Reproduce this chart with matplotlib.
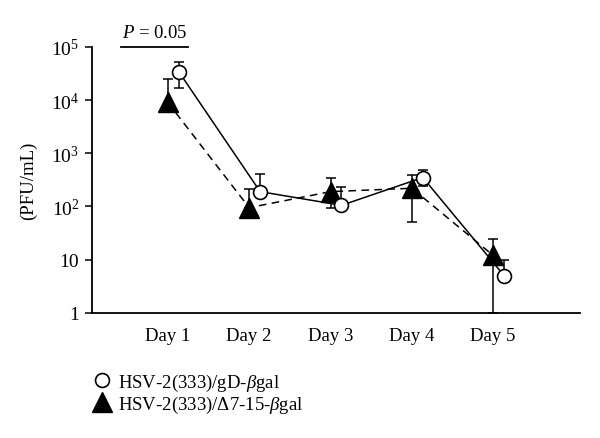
import numpy as np
import matplotlib
matplotlib.use("Agg")
import matplotlib.pyplot as plt
from matplotlib.lines import Line2D

plt.rcParams['font.family'] = ['Liberation Serif', 'DejaVu Serif']
plt.rcParams['mathtext.fontset'] = 'custom'
plt.rcParams['mathtext.rm'] = 'Liberation Serif'
plt.rcParams['mathtext.it'] = 'Liberation Serif:italic'

# Datos
dias = ["Day 1", "Day 2", "Day 3", "Day 4", "Day 5"]
gd_media = [34000, 190, 105, 350, 5]
gd_err_sup = [52000, 410, 230, 480, 10]
gd_err_inf = [17000, 190, 105, 240, 5]
d7_media = [9000, 95, 190, 220, 12]
d7_err_sup = [25000, 210, 350, 390, 24]
d7_err_inf = [9000, 95, 95, 50, 1]

etiqueta_gd = "HSV-2(333)/gD-$\\mathit{\\beta}$gal"
etiqueta_d7 = "HSV-2(333)/Δ7-15-$\\mathit{\\beta}$gal"

x = np.arange(1, len(dias) + 1)
x_gd = x + 0.135

fig = plt.figure(figsize=(6.0, 4.39), dpi=100)
ax = fig.add_axes([0.153, 0.285, 0.814, 0.606])

gd_media = np.array(gd_media, dtype=float)
d7_media = np.array(d7_media, dtype=float)
yerr_gd = [gd_media - np.array(gd_err_inf), np.array(gd_err_sup) - gd_media]
yerr_d7 = [d7_media - np.array(d7_err_inf), np.array(d7_err_sup) - d7_media]

# Barras de error
ax.errorbar(x, d7_media, yerr=yerr_d7, fmt='none', ecolor='black',
            elinewidth=1.1, capsize=3.5, capthick=1.1, zorder=2)
ax.errorbar(x_gd, gd_media, yerr=yerr_gd, fmt='none', ecolor='black',
            elinewidth=1.1, capsize=3.5, capthick=1.1, zorder=2)

# Líneas y marcadores
ax.plot(x, d7_media, linestyle=(0, (5, 3.5)), color='black', linewidth=1.1,
        marker='^', markersize=14, markerfacecolor='black',
        markeredgecolor='black', zorder=3)
ax.plot(x_gd, gd_media, linestyle='-', color='black', linewidth=1.1,
        marker='o', markersize=10, markerfacecolor='white',
        markeredgecolor='black', markeredgewidth=1.2, zorder=4)

ax.set_yscale('log')
ax.set_ylim(1, 1e5)
ax.set_xlim(0.065, 6.07)
ax.set_yticks([1, 10, 100, 1000, 1e4, 1e5])
ax.set_yticklabels(['1', '10', '$\\mathregular{10^2}$', '$\\mathregular{10^3}$',
                    '$\\mathregular{10^4}$', '$\\mathregular{10^5}$'], fontsize=14)
ax.minorticks_off()
ax.set_xticks(x)
ax.set_xticklabels(dias, fontsize=13.5)
ax.tick_params(axis='x', length=0, pad=10)
ax.tick_params(axis='y', length=5, width=1.1, pad=4)

for lado in ['top', 'right']:
    ax.spines[lado].set_visible(False)
for lado in ['left', 'bottom']:
    ax.spines[lado].set_linewidth(1.3)
ax.set_ylabel("(PFU/mL)", fontsize=13.5, labelpad=10)

# Significancia
ax.plot([0.43, 1.25], [1e5, 1e5], color='black', linewidth=1.3, clip_on=False)
ax.text(0.84, 1.3e5, "$\\mathit{P}$ = 0.05", ha='center', va='bottom', fontsize=13.5)

# Leyenda
manejadores = [
    Line2D([], [], marker='o', linestyle='none', markersize=10,
           markerfacecolor='white', markeredgecolor='black', markeredgewidth=1.2),
    Line2D([], [], marker='^', linestyle='none', markersize=14,
           markerfacecolor='black', markeredgecolor='black'),
]
fig.legend(manejadores, [etiqueta_gd, etiqueta_d7], loc='upper left',
           bbox_to_anchor=(0.135, 0.172), frameon=False, fontsize=13.5,
           handletextpad=0.3, labelspacing=0.05, handlelength=1.2, borderpad=0)

fig.savefig("out.png", dpi=100)
